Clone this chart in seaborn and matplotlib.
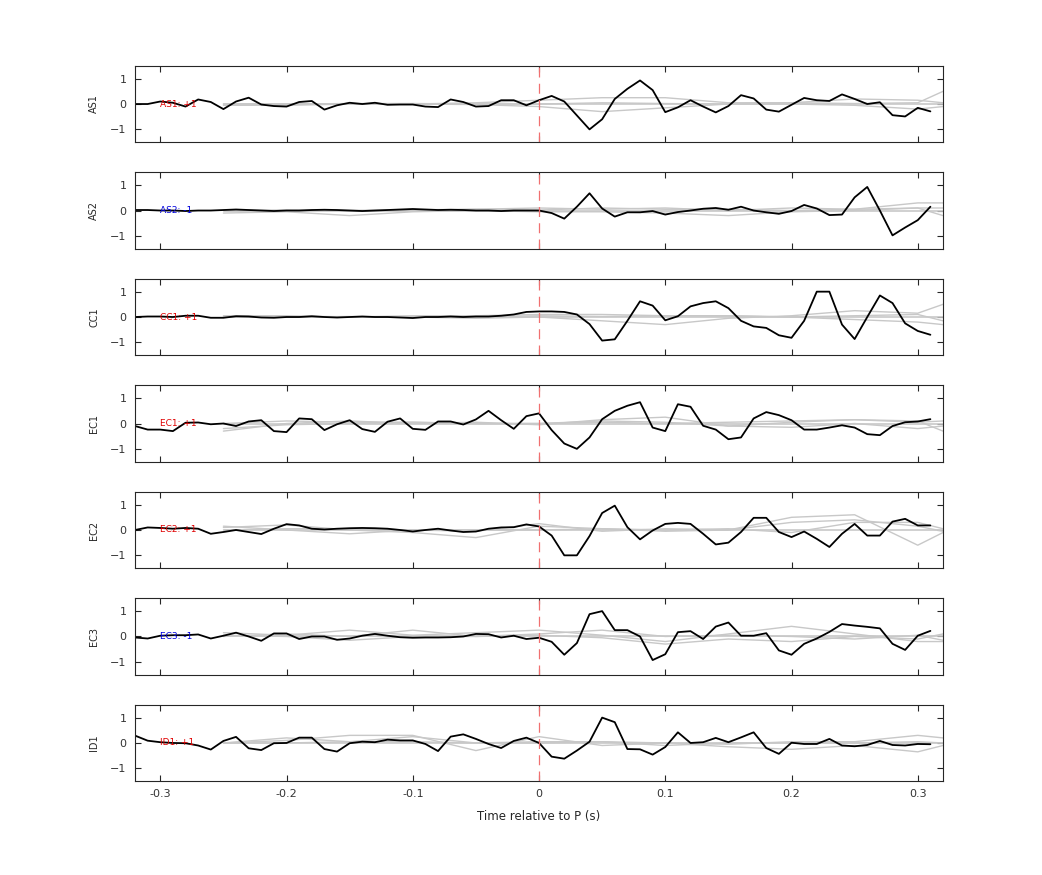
import numpy as np
import pandas as pd
import seaborn as sns
from matplotlib import pyplot as plt

sns.set_style("ticks")
plt.rcParams['font.family'] = ['DejaVu Sans']

t = np.round(np.arange(-0.32, 0.315, 0.01), 2)
t_gray = [-0.25, -0.2, -0.15, -0.1, -0.05, 0.0, 0.05, 0.1, 0.15, 0.2, 0.25, 0.3, 0.32]

stations = ["AS1", "AS2", "CC1", "EC1", "EC2", "EC3", "ID1"]
polarity = ["+1", "-1", "+1", "+1", "+1", "-1", "+1"]

as1 = [0, 0, 0.1, 0.05, -0.1, 0.18, 0.08, -0.2, 0.1, 0.25, -0.02, -0.08, -0.1, 0.08, 0.12, -0.22,
       -0.05, 0.05, 0, 0.05, -0.03, -0.02, -0.02, -0.1, -0.12, 0.18, 0.08, -0.1, -0.08, 0.15, 0.15, -0.05,
       0.15, 0.32, 0.1, -0.45, -1.0, -0.6, 0.2, 0.6, 0.93, 0.55, -0.32, -0.13, 0.15, -0.1, -0.33, -0.08,
       0.35, 0.22, -0.22, -0.3, -0.03, 0.24, 0.15, 0.12, 0.38, 0.2, 0, 0.07, -0.44, -0.49, -0.15, -0.29]
as2 = [0.02, 0.02, 0.0, 0.0, -0.02, 0.0, 0.0, 0.02, 0.04, 0.02, 0.0, -0.02, 0.0, 0.0, 0.02, 0.03,
       0.02, 0.0, -0.02, 0.0, 0.02, 0.04, 0.06, 0.04, 0.02, 0.03, 0.02, 0.0, 0.0, -0.02, 0.0, 0.0,
       0.0, -0.1, -0.32, 0.15, 0.68, 0.08, -0.24, -0.07, -0.07, -0.02, -0.16, -0.06, 0, 0.07, 0.1, 0.03,
       0.15, 0, -0.07, -0.13, -0.02, 0.22, 0.08, -0.18, -0.16, 0.52, 0.93, 0, -0.98, -0.67, -0.38, 0.15]
cc1 = [0.0, 0.02, 0.02, 0.0, 0.05, 0.05, -0.03, -0.03, 0.03, 0.02, -0.02, -0.03, 0.0, 0.0, 0.03, 0.0,
       -0.02, 0.0, 0.02, 0.0, 0.0, -0.02, -0.04, 0.0, 0.0, 0.02, 0.0, 0.02, 0.02, 0.05, 0.1, 0.2,
       0.22, 0.22, 0.2, 0.1, -0.28, -0.93, -0.88, -0.15, 0.62, 0.45, -0.13, 0.03, 0.42, 0.55, 0.62, 0.35,
       -0.15, -0.37, -0.43, -0.72, -0.82, -0.15, 1.0, 1.0, -0.3, -0.87, 0, 0.85, 0.55, -0.25, -0.55, -0.7]
ec1 = [-0.1, -0.24, -0.24, -0.3, 0.03, 0.04, -0.03, 0, -0.1, 0.08, 0.13, -0.3, -0.34, 0.2, 0.17, -0.26,
       -0.03, 0.13, -0.22, -0.33, 0.07, 0.2, -0.21, -0.25, 0.08, 0.08, -0.04, 0.16, 0.5, 0.13, -0.21, 0.29,
       0.4, -0.26, -0.79, -1.0, -0.55, 0.17, 0.5, 0.7, 0.84, -0.16, -0.3, 0.76, 0.66, -0.09, -0.24, -0.62,
       -0.55, 0.2, 0.45, 0.33, 0.13, -0.24, -0.24, -0.16, -0.07, -0.16, -0.42, -0.46, -0.1, 0.05, 0.08, 0.17]
ec2 = [0, 0.1, 0.08, 0.05, 0.08, 0.05, -0.15, -0.08, 0, -0.08, -0.16, 0.05, 0.23, 0.18, 0.05, 0.02,
       0.05, 0.07, 0.08, 0.07, 0.05, 0, -0.06, 0, 0.05, -0.02, -0.08, -0.06, 0.05, 0.1, 0.11, 0.22,
       0.14, -0.22, -1.0, -1.0, -0.24, 0.67, 0.96, 0.11, -0.37, -0.02, 0.24, 0.28, 0.24, -0.15, -0.57, -0.5,
       -0.08, 0.48, 0.48, -0.08, -0.28, -0.06, -0.35, -0.67, -0.15, 0.24, -0.22, -0.22, 0.33, 0.44, 0.18, 0.18]
ec3 = [-0.04, -0.08, 0.03, 0.05, 0.05, 0.08, -0.08, 0.03, 0.15, 0, -0.17, 0.12, 0.12, -0.1, 0, 0,
       -0.13, -0.08, 0.03, 0.1, 0.03, -0.03, -0.05, -0.04, -0.04, -0.03, 0, 0.1, 0.09, -0.04, 0.03, -0.1,
       -0.05, -0.21, -0.72, -0.26, 0.88, 1.0, 0.25, 0.25, 0, -0.93, -0.7, 0.17, 0.21, -0.1, 0.39, 0.55,
       0.03, 0.03, 0.13, -0.55, -0.72, -0.29, -0.08, 0.18, 0.49, 0.43, 0.38, 0.32, -0.29, -0.53, 0.03, 0.22]
id1 = [0.29, 0.09, 0.03, 0, -0.01, -0.1, -0.26, 0.08, 0.24, -0.21, -0.28, -0.01, 0, 0.21, 0.21, -0.24,
       -0.34, -0.01, 0.05, 0.03, 0.13, 0.1, 0.1, -0.04, -0.32, 0.25, 0.34, 0.16, -0.04, -0.2, 0.08, 0.21,
       0, -0.54, -0.62, -0.3, 0.05, 1.0, 0.82, -0.24, -0.25, -0.46, -0.16, 0.42, 0, 0.03, 0.2, 0.03,
       0.22, 0.42, -0.2, -0.43, 0.01, -0.04, -0.04, 0.16, -0.1, -0.13, -0.08, 0.08, -0.08, -0.1, -0.04, -0.05]
black = [as1, as2, cc1, ec1, ec2, ec3, id1]

# grey traces, three per station, sampled coarsely
gray = [
    [[0, 0, 0, 0, 0.05, 0.15, 0.25, 0.25, 0.05, 0.05, 0.2, 0.15, 0.05],
     [-0.05, -0.05, 0, 0, -0.02, -0.1, -0.3, -0.15, 0, 0, -0.05, -0.2, -0.1],
     [0, 0, 0.02, 0.02, 0, 0, 0.05, 0.02, 0, 0.05, 0.02, 0.05, 0.5]],
    [[0, 0, 0, 0, 0.05, 0.1, 0.05, 0.1, 0, 0.1, 0.05, 0.3, 0.3],
     [-0.1, -0.05, -0.2, -0.05, 0, -0.05, -0.05, -0.1, -0.2, -0.05, 0, 0.1, -0.2],
     [0, 0.02, 0, 0.03, 0.05, 0.02, 0.1, 0.05, 0.05, 0, 0.05, 0.1, 0.1]],
    [[0, 0, 0, 0, -0.05, 0, -0.15, -0.3, -0.05, 0.05, 0.25, 0.15, 0.5],
     [0.05, 0.05, 0, 0.05, 0.05, 0.1, 0.1, 0.05, 0.05, 0, -0.1, -0.2, -0.3],
     [0, 0, 0.02, 0, 0, 0.05, 0.02, 0.05, 0.05, 0, 0.05, 0.1, -0.15]],
    [[-0.3, 0, 0.1, 0, 0.05, -0.05, 0.15, 0.25, -0.1, 0.05, 0.15, 0.1, -0.3],
     [-0.2, -0.05, 0, 0.05, 0, 0, 0.1, 0.05, -0.1, -0.15, 0, -0.2, -0.1],
     [0, 0.1, 0.05, 0.05, 0, 0, 0.05, 0, 0.05, 0.1, 0.15, 0.05, 0.1]],
    [[0.1, 0.2, 0, -0.1, -0.3, 0.15, 0.05, -0.05, 0, 0.3, 0.4, 0.15, -0.05],
     [0.15, 0, -0.15, 0, -0.05, 0.25, -0.05, 0.05, 0, 0.5, 0.6, -0.6, -0.1],
     [0, 0.05, 0.05, 0, 0, 0, 0.05, 0, 0.05, -0.1, 0.3, 0.3, 0.05]],
    [[0.15, 0.05, 0.25, 0.05, 0.15, 0.25, 0.05, -0.2, 0.1, 0.4, 0.1, -0.2, -0.2],
     [0.05, 0, -0.15, 0, 0, 0.05, -0.05, -0.3, -0.1, -0.2, 0, -0.1, 0.1],
     [0, 0.1, 0, 0.25, 0, 0.1, 0.25, 0, 0.05, 0, -0.1, 0.05, -0.15]],
    [[0, 0.1, 0.3, 0.3, -0.3, 0.25, -0.1, 0, -0.15, -0.25, -0.1, -0.35, -0.1],
     [0, 0.2, 0.05, 0.25, 0, 0.05, 0.05, 0, -0.05, 0.05, 0.05, 0.3, 0.2],
     [0, 0, 0.05, 0.05, 0, 0, 0.05, -0.1, 0, 0, 0, 0.05, 0]],
]

fig, axes = plt.subplots(7, 1, figsize=(10.42, 8.75), dpi=100, sharex=True)
fig.subplots_adjust(left=0.1296, right=0.905, top=1 - 66 / 875, bottom=1 - 781 / 875, hspace=0.4)

for i, ax in enumerate(axes):
    for g in gray[i]:
        sns.lineplot(x=t_gray, y=g, ax=ax, color="#c8c8c8", lw=1)
    ax.axhline(0, color="#c8c8c8", lw=1.2, xmin=0.11)
    sns.lineplot(x=t, y=black[i], ax=ax, color="black", lw=1.3)
    ax.axvline(0, color="#f07070", lw=0.9, ls=(0, (8, 5)))
    col = "#e00000" if polarity[i] == "+1" else "#0000dd"
    ax.text(-0.3, 0, f"{stations[i]}: {polarity[i]}", color=col, fontsize=6.5, va="center")
    ax.set_xlim(-0.32, 0.32)
    ax.set_ylim(-1.5, 1.5)
    ax.set_yticks([-1, 0, 1])
    ax.set_ylabel(stations[i], fontsize=7, labelpad=8)
    ax.set_xticks([-0.3, -0.2, -0.1, 0, 0.1, 0.2, 0.3])
    ax.tick_params(direction="in", top=True, right=True, labelsize=8, length=4, width=0.8,
                   labelcolor="#333333", pad=6)
    for s in ax.spines.values():
        s.set_visible(True)
        s.set_linewidth(0.8)

axes[-1].set_xticklabels(["-0.3", "-0.2", "-0.1", "0", "0.1", "0.2", "0.3"])
axes[-1].set_xlabel("Time relative to P (s)", fontsize=8.5, labelpad=8)

plt.savefig("out.png")
